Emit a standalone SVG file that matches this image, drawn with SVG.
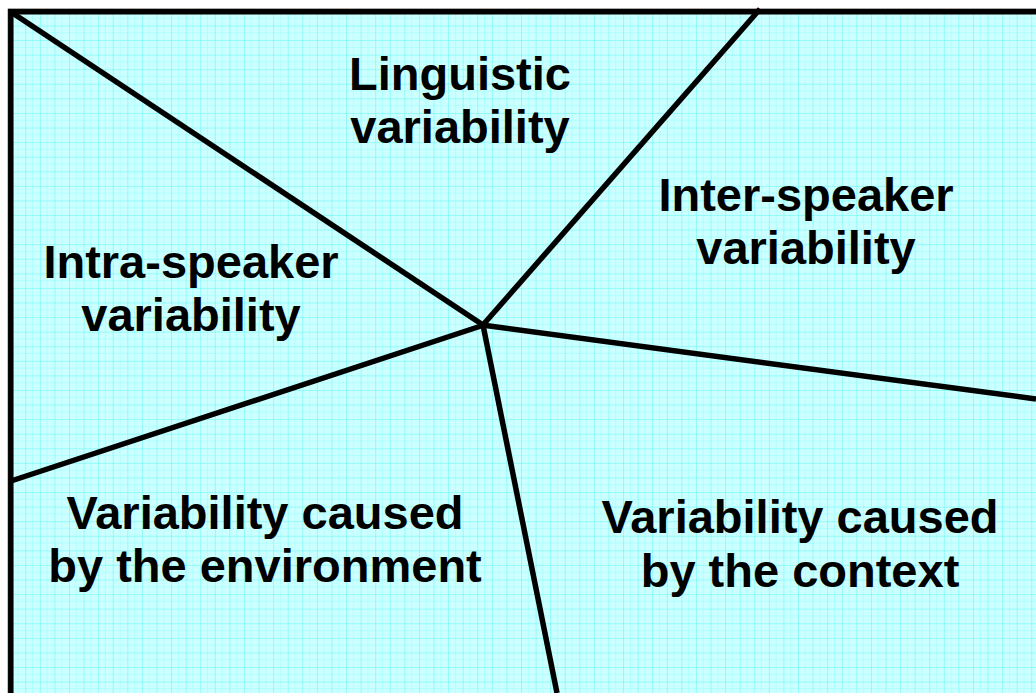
<svg xmlns="http://www.w3.org/2000/svg" width="1036" height="693" viewBox="0 0 1036 693">
<defs>
<pattern id="grid" x="10.7" y="10.9" width="14.58" height="14.58" patternUnits="userSpaceOnUse">
<rect width="14.58" height="14.58" fill="#ccffff"/>
<path d="M7.29 0V14.58M0 7.29H14.58" stroke="#a8ffff" stroke-width="0.8" fill="none"/>
<path d="M0 0V14.58M0 0H14.58" stroke="#5cf6f6" stroke-width="1" fill="none"/>
</pattern>
<style>
.t{font-family:"Liberation Sans",Arial,sans-serif;font-weight:bold;font-size:47px;fill:#000;text-anchor:middle}
.ln{stroke:#000;stroke-width:5.5;stroke-linecap:butt;fill:none}
</style>
</defs>
<rect width="1036" height="693" fill="#ffffff"/>
<g id="frame">
<rect x="10.5" y="11.5" width="1040" height="700" fill="url(#grid)"/>
<path d="M8 8.8H1036M8 8.8V693" stroke="#888" stroke-width="1" fill="none"/>
<path d="M10.8 693V11.8H1036" class="ln"/>
</g>
<g id="connectors">
<line class="ln" x1="11" y1="12" x2="483" y2="325"/>
<line class="ln" x1="482" y1="326" x2="760" y2="9"/>
<line class="ln" x1="482" y1="325" x2="1036" y2="399"/>
<line class="ln" x1="484" y1="325" x2="11" y2="481"/>
<line class="ln" x1="483" y1="325" x2="557" y2="693"/>
</g>
<g id="linguistic"><text class="t" x="460" y="90">Linguistic</text><text class="t" x="460" y="143">variability</text></g>
<g id="inter-speaker"><text class="t" x="806" y="211">Inter-speaker</text><text class="t" x="806" y="264">variability</text></g>
<g id="intra-speaker"><text class="t" x="191" y="278">Intra-speaker</text><text class="t" x="191" y="331">variability</text></g>
<g id="environment"><text class="t" x="265" y="529">Variability caused</text><text class="t" x="265" y="582">by the environment</text></g>
<g id="context"><text class="t" x="800" y="533">Variability caused</text><text class="t" x="800" y="587">by the context</text></g>
</svg>
